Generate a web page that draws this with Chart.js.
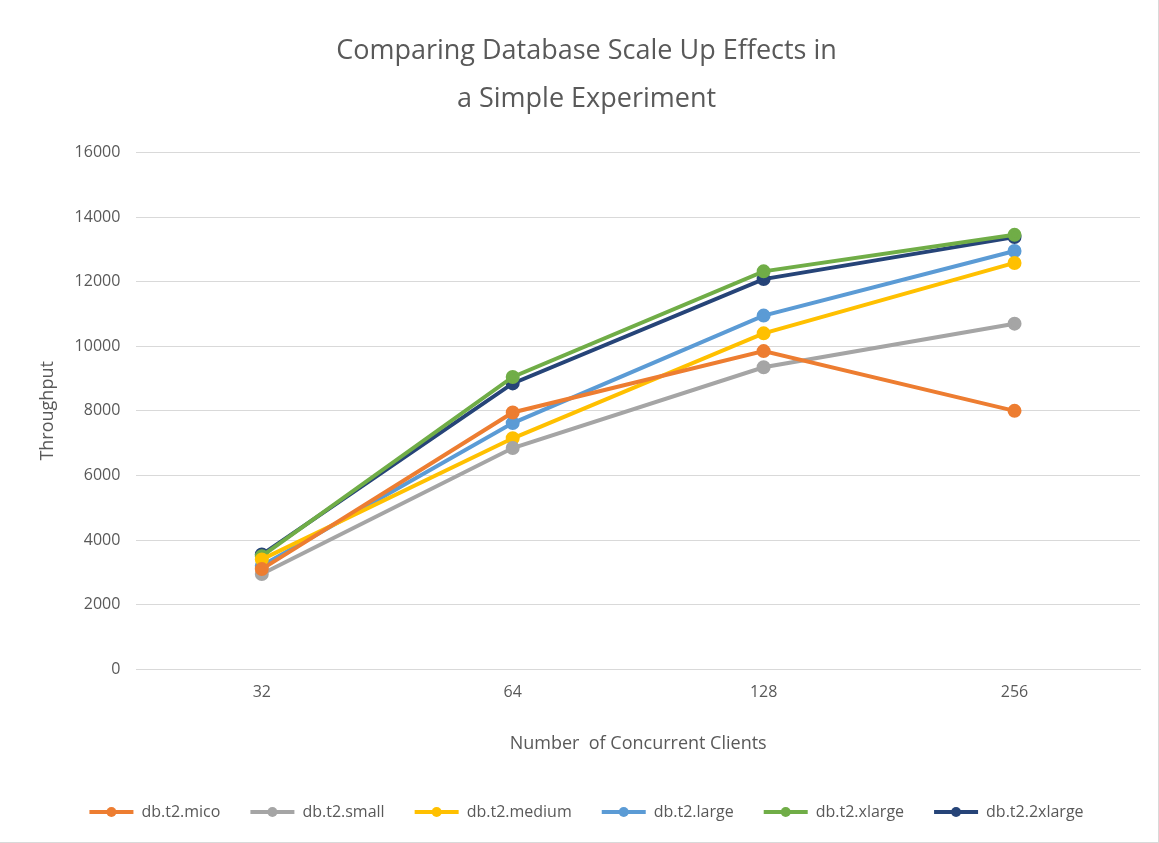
<!DOCTYPE html>
<html>
<head>
<meta charset="utf-8">
<script src="https://cdn.jsdelivr.net/npm/chart.js@4.4.0/dist/chart.umd.min.js"></script>
<style>
  html, body { margin: 0; padding: 0; background: #fff; }
  #wrap { position: relative; width: 1159px; height: 843px; box-sizing: border-box; border-right: 1px solid #d9d9d9; border-bottom: 1px solid #d9d9d9; }
</style>
</head>
<body>
<div id="wrap"><canvas id="scaleChart"></canvas></div>
<script>
const clients = ['32', '64', '128', '256'];
const yTicks = [0, 2000, 4000, 6000, 8000, 10000, 12000, 14000, 16000];

const micro = [3100, 7950, 9850, 8000];
const small = [2950, 6850, 9350, 10700];
const medium = [3400, 7150, 10400, 12580];
const large = [3200, 7620, 10950, 12950];
const xlarge = [3500, 9050, 12320, 13450];
const xxlarge = [3550, 8850, 12080, 13380];

const seriesNames = ['db.t2.mico', 'db.t2.small', 'db.t2.medium', 'db.t2.large', 'db.t2.xlarge', 'db.t2.2xlarge'];
const seriesColors = ['#ed7d31', '#a5a5a5', '#ffc000', '#5b9bd5', '#70ad47', '#264478'];
const seriesValues = [micro, small, medium, large, xlarge, xxlarge];

const textGray = '#595959';
const font = "'Open Sans', 'Liberation Sans', sans-serif";

// draws a dot on each legend line so it looks like the Excel marker+line legend
const legendMarkers = {
    id: 'legendMarkers',
    afterDraw(chart) {
        const legend = chart.legend;
        if (!legend || !legend.legendHitBoxes) return;
        const ctx = chart.ctx;
        legend.legendHitBoxes.forEach((box, i) => {
            const item = legend.legendItems[i];
            const cx = box.left + legend.options.labels.boxWidth / 2;
            const cy = box.top + box.height / 2;
            ctx.save();
            ctx.fillStyle = item.strokeStyle;
            ctx.beginPath();
            ctx.arc(cx, cy, 5, 0, Math.PI * 2);
            ctx.fill();
            ctx.restore();
        });
    }
};

const ctx = document.getElementById('scaleChart');
new Chart(ctx, {
    type: 'line',
    data: {
        labels: clients,
        datasets: seriesValues.map((vals, i) => ({
            label: seriesNames[i],
            data: vals,
            borderColor: seriesColors[i],
            backgroundColor: seriesColors[i],
            borderWidth: 4,
            pointRadius: 5,
            pointHoverRadius: 5,
            tension: 0,
            fill: false
        }))
    },
    options: {
        responsive: true,
        maintainAspectRatio: false,
        animation: false,
        layout: { padding: { left: 33, right: 18, top: 28, bottom: 12 } },
        plugins: {
            title: {
                display: true,
                text: ['Comparing Database Scale Up Effects in', 'a Simple Experiment'],
                color: textGray,
                font: { family: font, size: 27, weight: 'normal', lineHeight: 1.75 },
                padding: { top: 0, bottom: 30 }
            },
            legend: {
                position: 'bottom',
                labels: {
                    color: textGray,
                    font: { family: font, size: 16 },
                    boxWidth: 44,
                    boxHeight: 4,
                    padding: 30,
                    generateLabels(chart) {
                        return chart.data.datasets.map((ds, i) => ({
                            text: ds.label,
                            fillStyle: ds.borderColor,
                            strokeStyle: ds.borderColor,
                            lineWidth: 0,
                            fontColor: textGray,
                            datasetIndex: i
                        }));
                    }
                }
            },
            tooltip: { enabled: false }
        },
        scales: {
            x: {
                offset: true,
                grid: { display: false, drawTicks: false },
                border: { color: '#d9d9d9', width: 1 },
                ticks: { color: textGray, font: { family: font, size: 16 }, padding: 14 },
                title: {
                    display: true,
                    text: 'Number  of Concurrent Clients',
                    color: textGray,
                    font: { family: font, size: 18 },
                    padding: { top: 17, bottom: 19 }
                }
            },
            y: {
                min: 0,
                max: 16000,
                afterBuildTicks(axis) { axis.ticks = yTicks.map(v => ({ value: v })); },
                grid: { color: '#d9d9d9', drawTicks: false },
                border: { display: false },
                ticks: {
                    color: textGray,
                    font: { family: font, size: 16 },
                    padding: 16,
                    callback: v => String(v)
                },
                title: {
                    display: true,
                    text: 'Throughput',
                    color: textGray,
                    font: { family: font, size: 18 },
                    padding: { bottom: 0 }
                }
            }
        }
    },
    plugins: [legendMarkers]
});
</script>
</body>
</html>
